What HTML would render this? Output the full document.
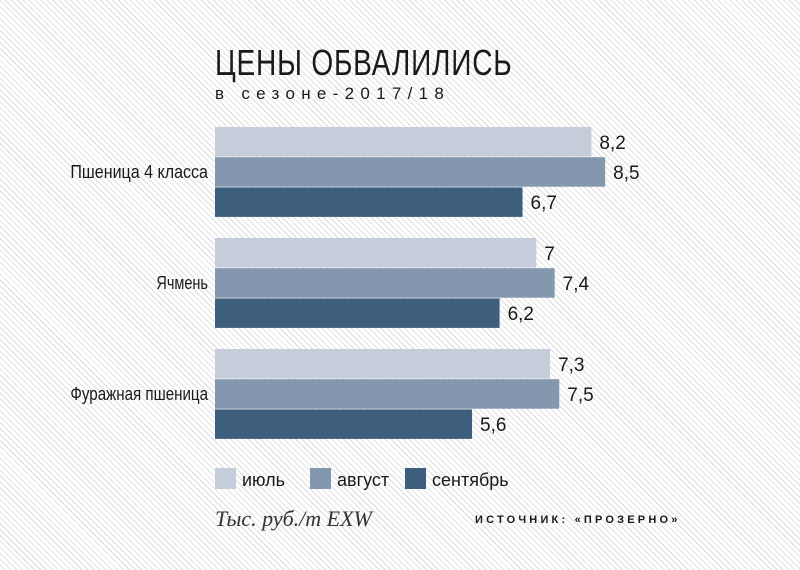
<!DOCTYPE html>
<html><head><meta charset="utf-8"><style>
body{margin:0;}
#root{position:relative;width:800px;height:570px;overflow:hidden;font-family:"Liberation Sans",sans-serif;
background:repeating-linear-gradient(45deg,#ffffff 0px,#ffffff 3px,#e3e3e3 3px,#e3e3e3 4.2px);}
.t{position:absolute;white-space:nowrap;color:#1a1a1a;}
</style></head><body>
<div id="root">
<div class="t" style="left:215px;top:42px;font-size:36px;transform:scaleX(0.78);transform-origin:left top;letter-spacing:1px;">ЦЕНЫ ОБВАЛИЛИСЬ</div>
<div class="t" style="left:215px;top:84px;font-size:17px;letter-spacing:6.3px;">в сезоне-2017/18</div>
<svg id="chart" width="800" height="570" style="position:absolute;left:0;top:0"></svg>
<div class="t" style="left:215px;top:506px;font-family:'Liberation Serif',serif;font-style:italic;font-size:22px;color:#333;">Тыс. руб./т EXW</div>
<div class="t" style="left:475px;top:514px;font-size:11px;font-weight:bold;letter-spacing:3.2px;">ИСТОЧНИК: «ПРОЗЕРНО»</div>
</div>
<script>
const categories=["Пшеница 4 класса","Ячмень","Фуражная пшеница"];
const seriesNames=["июль","август","сентябрь"];
const july=[8.2,7,7.3];
const august=[8.5,7.4,7.5];
const september=[6.7,6.2,5.6];
const valueLabels=[["8,2","8,5","6,7"],["7","7,4","6,2"],["7,3","7,5","5,6"]];
const colors=["#c4cdd9","#8397ae","#3d5e7c"];
const svg=document.getElementById('chart');
const NS='http://www.w3.org/2000/svg';
const x0=215,pxPer=45.9;
function xScale(v){return x0+v*pxPer;}
const groupTop=127,groupStep=111,barH=29.5,barGap=0.7;
function yScale(ci,si){return groupTop+ci*groupStep+si*(barH+barGap);}
const series=[july,august,september];
categories.forEach((c,ci)=>{
  const lab=document.createElementNS(NS,'text');
  
  
  lab.setAttribute('x',208);lab.setAttribute('y',yScale(ci,1)+barH/2+6);
  lab.setAttribute('text-anchor','end');lab.setAttribute('font-size','18');
  lab.setAttribute('fill','#1a1a1a');lab.setAttribute('font-family','Liberation Sans, sans-serif');
  lab.setAttribute('textLength',String(c.length*8.6));lab.setAttribute('lengthAdjust','spacingAndGlyphs');
  lab.textContent=c;svg.appendChild(lab);
  series.forEach((s,si)=>{
    const r=document.createElementNS(NS,'rect');
    
    
    r.setAttribute('x',x0);r.setAttribute('y',yScale(ci,si));
    r.setAttribute('width',xScale(s[ci])-x0);r.setAttribute('height',barH);
    r.setAttribute('fill',colors[si]);svg.appendChild(r);
    const t=document.createElementNS(NS,'text');
    
    
    t.setAttribute('x',xScale(s[ci])+8);t.setAttribute('y',yScale(ci,si)+barH/2+7);
    t.setAttribute('font-size','19');t.setAttribute('fill','#1a1a1a');
    t.setAttribute('font-family','Liberation Sans, sans-serif');
    t.textContent=valueLabels[ci][si];svg.appendChild(t);
  });
});
const legX=[215,310,405];
seriesNames.forEach((n,i)=>{
  const r=document.createElementNS(NS,'rect');
  
  
  r.setAttribute('x',legX[i]);r.setAttribute('y',468);r.setAttribute('width',21);r.setAttribute('height',21);
  r.setAttribute('fill',colors[i]);svg.appendChild(r);
  const t=document.createElementNS(NS,'text');
  
  
  t.setAttribute('x',legX[i]+27);t.setAttribute('y',486);t.setAttribute('font-size','18');
  t.setAttribute('fill','#1a1a1a');t.setAttribute('font-family','Liberation Sans, sans-serif');
  t.textContent=n;svg.appendChild(t);
});
</script>
</body></html>
